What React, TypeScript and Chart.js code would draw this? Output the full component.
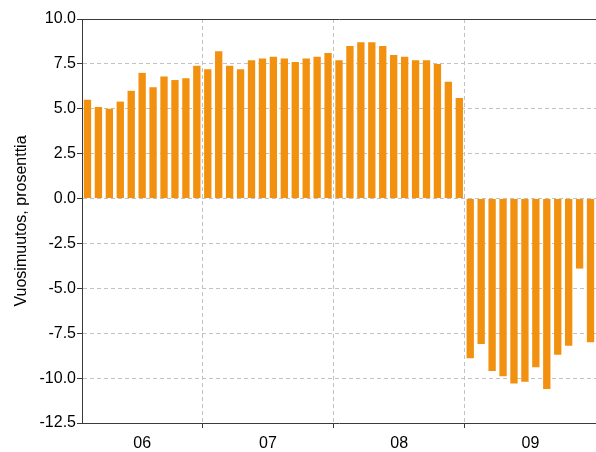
import React, { useEffect, useRef } from 'react';
import { Chart, registerables } from 'chart.js';

Chart.register(...registerables);

const months = [
  '2006-02', '2006-03', '2006-04', '2006-05', '2006-06', '2006-07', '2006-08', '2006-09', '2006-10', '2006-11', '2006-12',
  '2007-01', '2007-02', '2007-03', '2007-04', '2007-05', '2007-06', '2007-07', '2007-08', '2007-09', '2007-10', '2007-11', '2007-12',
  '2008-01', '2008-02', '2008-03', '2008-04', '2008-05', '2008-06', '2008-07', '2008-08', '2008-09', '2008-10', '2008-11', '2008-12',
  '2009-01', '2009-02', '2009-03', '2009-04', '2009-05', '2009-06', '2009-07', '2009-08', '2009-09', '2009-10', '2009-11', '2009-12',
];

const growth = [
  5.5, 5.1, 5.0, 5.4, 6.0, 7.0, 6.2, 6.8, 6.6, 6.7, 7.4,
  7.2, 8.2, 7.4, 7.2, 7.7, 7.8, 7.9, 7.8, 7.6, 7.8, 7.9, 8.1,
  7.7, 8.5, 8.7, 8.7, 8.5, 8.0, 7.9, 7.7, 7.7, 7.5, 6.5, 5.6,
  -8.9, -8.1, -9.6, -9.9, -10.3, -10.2, -9.4, -10.6, -8.7, -8.2, -3.9, -8.0,
];

const yearLabels = ['06', '07', '08', '09'];
const yMin = -12.5;
const yMax = 10;
const yStep = 2.5;
const yTitle = 'Vuosimuutos, prosenttia';

export default function App() {
  const ref = useRef<HTMLCanvasElement>(null);

  useEffect(() => {
    document.body.style.margin = '0';
    const yearOf = (m: string) => m.slice(2, 4);
    const boundaries: number[] = [];
    months.forEach((m, i) => {
      if (i > 0 && yearOf(m) !== yearOf(months[i - 1])) boundaries.push(i);
    });
    const centers = yearLabels.map((y) => {
      const idx = months.map((m, i) => (yearOf(m) === y ? i : -1)).filter((i) => i >= 0);
      return (idx[0] + idx[idx.length - 1]) / 2;
    });
    const isB = (i: any) => typeof i === 'number' && boundaries.includes(i);
    const axisColor = '#3a3a3a';
    const gridColor = '#c2c2c2';
    const font = { family: '"Liberation Sans", Arial, sans-serif', size: 16 };

    const chart = new Chart(ref.current as HTMLCanvasElement, {
      type: 'bar',
      data: {
        labels: months,
        datasets: [
          {
            data: growth,
            backgroundColor: '#F2910F',
            xAxisID: 'x',
            yAxisID: 'y',
            barPercentage: 0.67,
            categoryPercentage: 1,
          },
        ],
      },
      options: {
        animation: false,
        responsive: false,
        layout: { padding: { top: 19, right: 0, bottom: 0, left: 0 } },
        plugins: { legend: { display: false }, tooltip: { enabled: false } },
        scales: {
          x: {
            type: 'category',
            position: 'bottom',
            weight: 0,
            offset: true,
            grid: {
              offset: true,
              color: (c: any) => (isB(c.index) ? gridColor : 'rgba(0,0,0,0)'),
              tickColor: (c: any) => (isB(c.index) ? axisColor : 'rgba(0,0,0,0)'),
              tickLength: 5,
              lineWidth: 1,
            },
            border: { display: true, color: axisColor, width: 1, dash: [4, 3] },
            ticks: { display: false },
            afterFit: (s: any) => {
              s.height = 6;
            },
          },
          x2: {
            type: 'linear',
            position: 'bottom',
            weight: 1,
            offset: false,
            min: -0.5,
            max: months.length - 0.5,
            afterBuildTicks: (s: any) => {
              s.ticks = centers.map((v) => ({ value: v }));
            },
            ticks: {
              callback: (v: any) => {
                const k = centers.indexOf(Number(v));
                return k >= 0 ? yearLabels[k] : '';
              },
              autoSkip: false,
              maxRotation: 0,
              padding: 5,
              color: '#000',
              font,
            },
            grid: { display: false, drawTicks: false, offset: false },
            border: { display: false },
            afterFit: (s: any) => {
              s.height = 23;
            },
          },
          xt: {
            type: 'linear',
            position: 'top',
            offset: false,
            min: 0,
            max: 1,
            ticks: { display: false },
            grid: { display: false, drawTicks: false, offset: false },
            border: { display: true, color: axisColor, width: 1 },
            afterFit: (s: any) => {
              s.height = 0;
            },
          },
          y: {
            type: 'linear',
            position: 'left',
            min: yMin,
            max: yMax,
            ticks: {
              stepSize: yStep,
              callback: (v: any) => Number(v).toFixed(1),
              color: '#000',
              padding: 1,
              font,
            },
            grid: { color: gridColor, tickColor: axisColor, tickLength: 5, lineWidth: 1 },
            border: { display: true, color: axisColor, width: 1, dash: [4, 3] },
            title: {
              display: true,
              text: yTitle,
              color: '#000',
              font,
              padding: { top: 12, bottom: 0 },
            },
            afterFit: (s: any) => {
              s.width = 82;
            },
          },
        },
      },
    } as any);

    return () => chart.destroy();
  }, []);

  return (
    <div style={{ width: 596, height: 452 }}>
      <canvas ref={ref} width={596} height={452} />
    </div>
  );
}
